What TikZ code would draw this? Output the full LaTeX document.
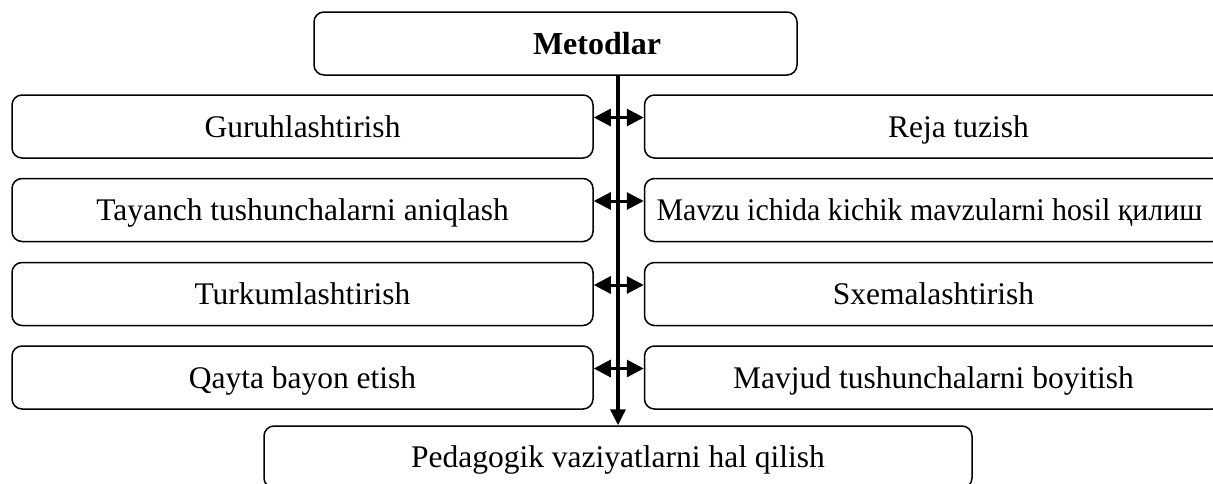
\documentclass[tikz,border=0pt]{standalone}
\usepackage{fontspec}
\setmainfont{Liberation Serif}
\usetikzlibrary{positioning,arrows.meta}

\tikzset{
  box/.style={draw, line width=1.5pt, rounded corners=10pt, minimum height=63pt, inner sep=0pt,
              text height=25pt, text depth=4pt},
  lbox/.style={box, minimum width=581pt},
  rbox/.style={box, minimum width=578pt},
  link/.style={{Triangle[length=17pt,width=17pt]}-{Triangle[length=17pt,width=17pt]}, line width=3pt},
  spine/.style={-{Triangle[length=16pt,width=15pt]}, line width=3.5pt}
}

\begin{document}
\begin{tikzpicture}[x=1pt, y=-1pt, font=\fontsize{31.5}{38}\selectfont]
    \useasboundingbox (0,0) rectangle (1213,483);

    % Heading
    \node[box, minimum width=483pt,
          label={[font=\fontsize{32}{38}\selectfont\bfseries, xshift=41.5pt]center:Metodlar}] (metod) at (555.5,43.5) {};

    % Left column
    \node[lbox] (guruh) at (302.5,126.5) {Guruhlashtirish};
    \node[lbox] (tayan) at (302.5,210) {Tayanch tushunchalarni aniqlash};
    \node[lbox] (turkum) at (302.5,294) {Turkumlashtirish};
    \node[lbox] (qayta) at (302.5,377.5) {Qayta bayon etish};

    % Right column
    \node[rbox, right=50pt of guruh] (reja) {\hspace*{50pt}Reja tuzish};
    \node[rbox, right=50pt of tayan] (mavzu) {\scalebox{0.95}[1]{Mavzu ichida kichik mavzularni hosil қилиш}\hspace*{8pt}};
    \node[rbox, right=50pt of turkum] (sxema) {Sxemalashtirish};
    \node[rbox, right=50pt of qayta] (mavjud) {Mavjud tushunchalarni boyitish};

    % Result
    \node[box, minimum width=708pt, minimum height=62pt] (pedag) at (618,457) {Pedagogik vaziyatlarni hal qilish};

    % Links between the columns
    \draw[link] ([yshift=9pt]guruh.east) -- ([yshift=9pt]reja.west);
    \draw[link] ([yshift=9pt]tayan.east) -- ([yshift=9pt]mavzu.west);
    \draw[link] ([yshift=9pt]turkum.east) -- ([yshift=9pt]sxema.west);
    \draw[link] ([yshift=9pt]qayta.east) -- ([yshift=9pt]mavjud.west);

    % Main line down
    \draw[spine] (metod.south -| pedag.north) -- (pedag.north);
\end{tikzpicture}
\end{document}
